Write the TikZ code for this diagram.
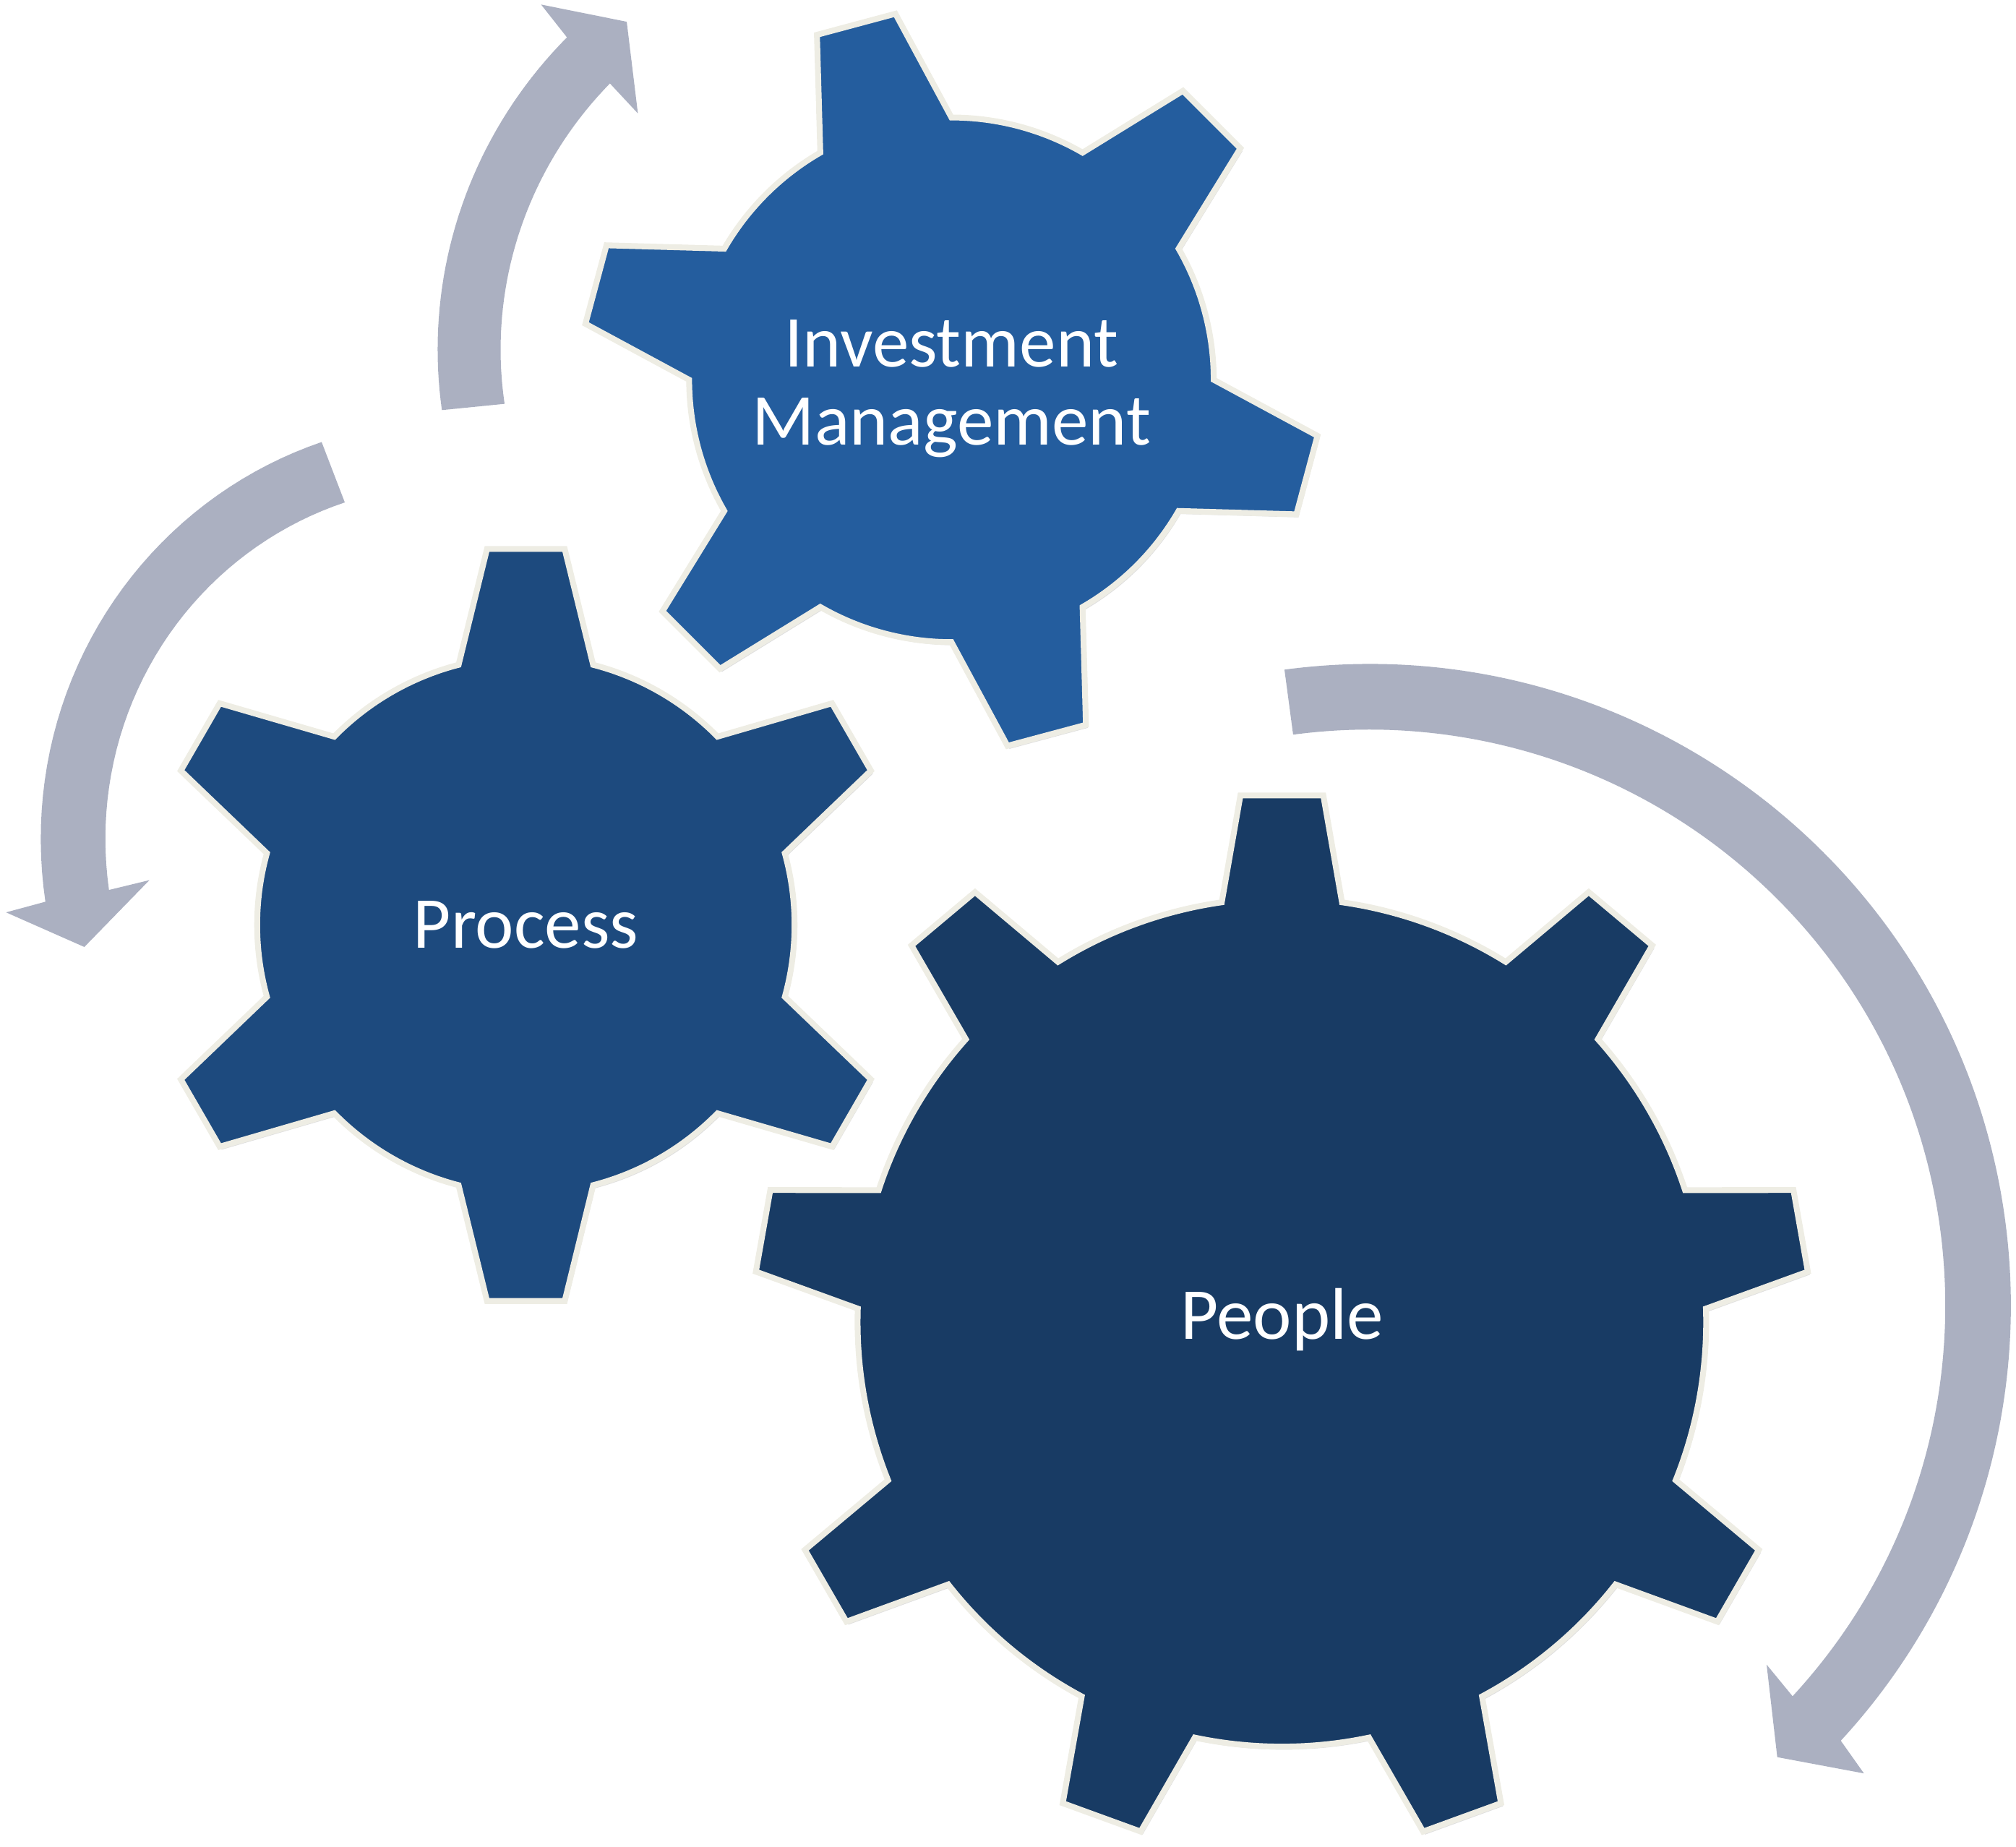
\documentclass[tikz,border=0pt]{standalone}
\usepackage{fontspec}
\setmainfont{Carlito}
\usetikzlibrary{shadows}
\definecolor{imblue}{RGB}{36,93,158}
\definecolor{prblue}{RGB}{29,74,126}
\definecolor{peblue}{RGB}{24,59,100}
\definecolor{arrowgray}{RGB}{171,176,193}
\definecolor{rim}{RGB}{238,237,228}
\tikzset{
  gearbody/.style={draw=rim, line width=2.3pt, line join=miter,
    drop shadow={shadow xshift=0.8pt, shadow yshift=-1.2pt, opacity=0.25}},
  cyclearrow/.style={fill=arrowgray},
  geartext/.style={text=white, font=\fontsize{28.8}{30.6}\selectfont, align=center}
}
\begin{document}
\begin{tikzpicture}[x=0.017787cm, y=0.017787cm]
\useasboundingbox (0,0) rectangle (1568,1436.4);

% arrows round the gears
\fill[cyclearrow, shift={(680,1151)}]
  plot[domain=185.7:133, samples=40] (\x:{338+(185.7-\x)*0.2372})
  -- (132.6:382.9) -- (125.65:330.4) -- (133:269.6)
  -- plot[domain=133:185.7, samples=40] (\x:{289+(185.7-\x)*0.2372}) -- cycle;
\fill[cyclearrow, shift={(364,796)}]
  plot[domain=111:190.5, samples=40] (\x:{317.7+(\x-111)*0.2088})
  -- (190.9:365.9) -- (197.85:313.5) -- (190.1:251.7)
  -- plot[domain=190.5:111, samples=40] (\x:{267.4+(\x-111)*0.2088}) -- cycle;
\fill[cyclearrow, shift={(1065,421)}] (97.6:499) arc[start angle=97.6, end angle=-42.7, radius=499]
  -- (-43.4:529.5) -- (-47.9:473.3) -- (-42.1:416.5) -- (-42.7:448)
  arc[start angle=-42.7, end angle=97.6, radius=448] -- cycle;

% gears
\draw[gearbody, fill=imblue, shift={(740,1141)}] (60:204)
  \foreach \a in {105,165,...,405} {
    arc[start angle=\a-45, end angle=\a-15, radius=204]
    -- (\a-6.3:288) -- (\a+6.3:288) -- (\a+15:204)
  } -- cycle;
\draw[gearbody, fill=prblue, shift={(409,717)}] (44.5:209)
  \foreach \a in {90,150,...,390} {
    arc[start angle=\a-45.5, end angle=\a-14.5, radius=209]
    -- (\a-5.9:294) -- (\a+5.9:294) -- (\a+14.5:209)
  } -- cycle;
\draw[gearbody, fill=peblue, shift={(997,408)}] (58.15:330)
  \foreach \a in {90,130,...,410} {
    arc[start angle=\a-31.85, end angle=\a-8.15, radius=330]
    -- (\a-4.5:411) -- (\a+4.5:411) -- (\a+8.15:330)
  } -- cycle;

\node[geartext] (invest) at (740,1134) {Investment\\Management};
\node[geartext] (process) at (409,717) {Process};
\node[geartext] (people) at (997,410) {People};
\end{tikzpicture}
\end{document}
